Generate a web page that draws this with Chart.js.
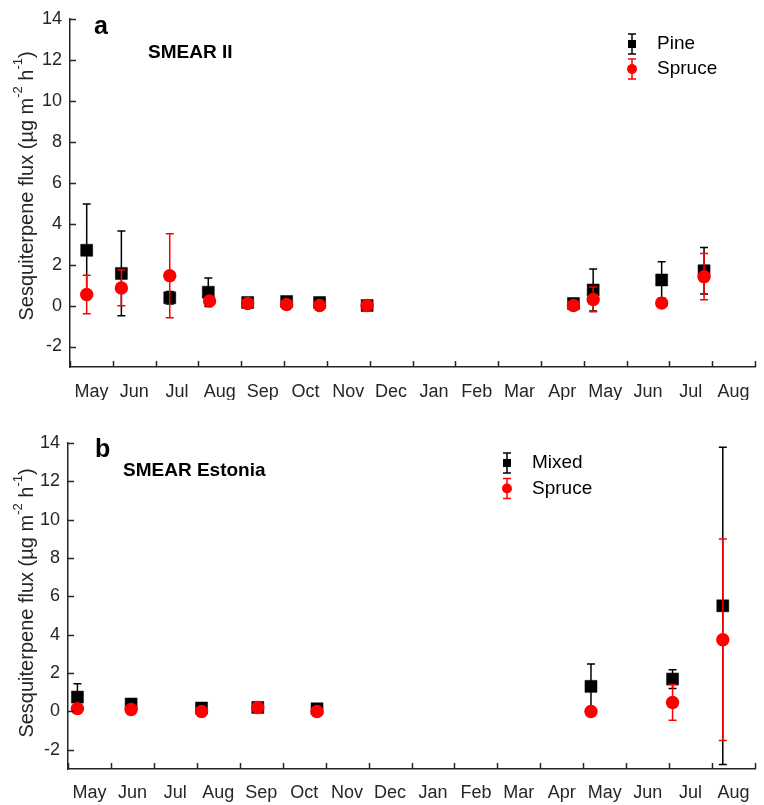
<!DOCTYPE html>
<html>
<head>
<meta charset="utf-8">
<script src="https://cdn.jsdelivr.net/npm/chart.js@4.4.0/dist/chart.umd.min.js"></script>
<style>
  body { margin: 0; background: #fff; }
  canvas { display: block; }
</style>
</head>
<body>
<canvas id="chartA" width="764" height="400"></canvas>
<canvas id="chartB" width="764" height="405"></canvas>
<script>
// month axis: x value = months since 1 May of the first year
var monthLabels = ['May', 'Jun', 'Jul', 'Aug', 'Sep', 'Oct', 'Nov', 'Dec', 'Jan', 'Feb', 'Mar', 'Apr', 'May', 'Jun', 'Jul', 'Aug'];
var yTickValues = [-2, 0, 2, 4, 6, 8, 10, 12, 14];

// panel a, SMEAR II
var pineX = [0.39, 1.20, 2.33, 3.23, 4.15, 5.06, 5.83, 6.94, 11.76, 12.22, 13.82, 14.81];
var pineY = [2.70, 1.57, 0.38, 0.65, 0.15, 0.20, 0.15, 0.00, 0.10, 0.76, 1.25, 1.70];
var pineErr = [2.26, 2.07, 0.30, 0.70, 0.10, 0.10, 0.10, 0.05, 0.10, 1.02, 0.89, 1.13];
var spruceAX = [0.39, 1.20, 2.33, 3.26, 4.15, 5.06, 5.83, 6.94, 11.76, 12.22, 13.82, 14.81];
var spruceAY = [0.54, 0.86, 1.46, 0.22, 0.10, 0.05, 0.00, 0.00, 0.00, 0.30, 0.12, 1.41];
var spruceAErr = [0.94, 0.87, 2.05, 0.15, 0.05, 0.05, 0.05, 0.05, 0.05, 0.60, 0.10, 1.13];

// panel b, SMEAR Estonia
var mixedX = [0.22, 1.47, 3.11, 4.42, 5.80, 12.18, 14.08, 15.25];
var mixedY = [0.75, 0.39, 0.18, 0.21, 0.14, 1.31, 1.69, 5.51];
var mixedErr = [0.69, 0.15, 0.10, 0.10, 0.10, 1.16, 0.49, 8.27];
var spruceBX = [0.22, 1.47, 3.11, 4.42, 5.80, 12.18, 14.08, 15.25];
var spruceBY = [0.15, 0.10, 0.00, 0.21, 0.00, 0.00, 0.47, 3.74];
var spruceBErr = [0.10, 0.10, 0.05, 0.05, 0.05, 0.05, 0.93, 5.25];

var FONT = "'Liberation Sans', Arial, sans-serif";
var AXIS = '#262626';
Chart.defaults.font.family = FONT;
Chart.defaults.color = AXIS;

function points(xs, ys) {
    return xs.map(function (x, i) { return { x: x, y: ys[i] }; });
}

// vertical error bars with caps, drawn just before each dataset's markers
var errorBars = {
    id: 'errorBars',
    beforeDatasetDraw: function (chart, args) {
        var ds = chart.data.datasets[args.index];
        if (!ds.errors) return;
        var ctx = chart.ctx, y = chart.scales.y;
        ctx.save();
        ctx.strokeStyle = ds.borderColor;
        ctx.lineWidth = 1.5;
        ctx.beginPath();
        args.meta.data.forEach(function (pt, i) {
            var v = ds.data[i].y, e = ds.errors[i];
            var top = y.getPixelForValue(v + e), bot = y.getPixelForValue(v - e);
            ctx.moveTo(pt.x, top); ctx.lineTo(pt.x, bot);
            ctx.moveTo(pt.x - 4, top); ctx.lineTo(pt.x + 4, top);
            ctx.moveTo(pt.x - 4, bot); ctx.lineTo(pt.x + 4, bot);
        });
        ctx.stroke();
        ctx.restore();
    }
};

// inward tick marks on both axes
var innerTicks = {
    id: 'innerTicks',
    afterDraw: function (chart) {
        var ctx = chart.ctx, x = chart.scales.x, y = chart.scales.y, a = chart.chartArea;
        ctx.save();
        ctx.strokeStyle = AXIS;
        ctx.lineWidth = 1.5;
        ctx.beginPath();
        for (var i = 0; i <= monthLabels.length; i++) {
            var px = Math.round(x.getPixelForValue(i)) + 0.5;
            ctx.moveTo(px, a.bottom); ctx.lineTo(px, a.bottom - 6);
        }
        yTickValues.forEach(function (v) {
            var py = Math.round(y.getPixelForValue(v)) + 0.5;
            ctx.moveTo(a.left, py); ctx.lineTo(a.left + 6, py);
        });
        ctx.stroke();
        ctx.restore();
    }
};

// panel letter, site name, y title with superscripts, legend with error-bar glyphs
var panelText = {
    id: 'panelText',
    afterDraw: function (chart, args, o) {
        var ctx = chart.ctx, a = chart.chartArea;
        ctx.save();
        ctx.fillStyle = '#000';
        ctx.textBaseline = 'alphabetic';
        ctx.textAlign = 'left';
        ctx.font = 'bold 25px ' + FONT;
        ctx.fillText(o.letter, o.letterX, o.letterY);
        ctx.font = 'bold 19px ' + FONT;
        ctx.fillText(o.site, o.siteX, o.siteY);

        // y axis title
        var parts = [
            { t: 'Sesquiterpene flux (\u00b5g m', sup: false },
            { t: '-2', sup: true },
            { t: ' h', sup: false },
            { t: '-1', sup: true },
            { t: ')', sup: false }
        ];
        var total = 0;
        parts.forEach(function (p) {
            ctx.font = (p.sup ? '13px ' : '20px ') + FONT;
            p.w = ctx.measureText(p.t).width;
            total += p.w;
        });
        ctx.translate(o.titleX, (a.top + a.bottom) / 2 + o.titleDy);
        ctx.rotate(-Math.PI / 2);
        ctx.fillStyle = AXIS;
        ctx.textBaseline = 'middle';
        var cx = -total / 2;
        parts.forEach(function (p) {
            ctx.font = (p.sup ? '13px ' : '20px ') + FONT;
            ctx.fillText(p.t, cx, p.sup ? -9 : 0);
            cx += p.w;
        });
        ctx.setTransform(1, 0, 0, 1, 0, 0);

        // legend
        o.legend.forEach(function (item, i) {
            var ly = o.legendY + i * o.legendGap, lx = o.legendX;
            ctx.strokeStyle = item.color;
            ctx.fillStyle = item.color;
            ctx.lineWidth = 1.5;
            ctx.beginPath();
            ctx.moveTo(lx, ly - 10); ctx.lineTo(lx, ly + 10);
            ctx.moveTo(lx - 4, ly - 10); ctx.lineTo(lx + 4, ly - 10);
            ctx.moveTo(lx - 4, ly + 10); ctx.lineTo(lx + 4, ly + 10);
            ctx.stroke();
            ctx.beginPath();
            if (item.shape === 'rect') ctx.rect(lx - 4, ly - 4, 8, 8);
            else ctx.arc(lx, ly, 5, 0, Math.PI * 2);
            ctx.fill();
            ctx.fillStyle = '#000';
            ctx.font = '19px ' + FONT;
            ctx.textBaseline = 'middle';
            ctx.fillText(item.label, lx + 25, ly);
        });
        ctx.restore();
    }
};

function makeChart(id, cfg) {
    var canvas = document.getElementById(id);
    return new Chart(canvas.getContext('2d'), {
        type: 'scatter',
        data: {
            datasets: [{
                label: cfg.blackLabel,
                data: points(cfg.bx, cfg.by),
                errors: cfg.berr,
                pointStyle: 'rect',
                pointRadius: 8.5,
                backgroundColor: '#000',
                borderColor: '#000',
                borderWidth: 0.5,
                order: 2
            }, {
                label: 'Spruce',
                data: points(cfg.rx, cfg.ry),
                errors: cfg.rerr,
                pointStyle: 'circle',
                pointRadius: 6.7,
                backgroundColor: '#ff0000',
                borderColor: '#ff0000',
                borderWidth: 0,
                order: 1
            }]
        },
        options: {
            responsive: false,
            animation: false,
            events: [],
            layout: { padding: { left: 0, right: 6, top: cfg.top, bottom: 0 } },
            plugins: {
                legend: { display: false },
                tooltip: { enabled: false },
                panelText: cfg.text
            },
            scales: {
                x: {
                    type: 'linear',
                    min: 0,
                    max: monthLabels.length,
                    grid: { display: false, drawTicks: false },
                    border: { display: true, color: AXIS, width: 1.5 },
                    ticks: {
                        padding: cfg.labelPad,
                        font: { size: 18 },
                        color: AXIS,
                        maxRotation: 0,
                        callback: function (v, i) { return monthLabels[i]; }
                    },
                    afterBuildTicks: function (s) {
                        s.ticks = monthLabels.map(function (m, i) { return { value: i + 0.5 }; });
                    },
                    afterFit: function (s) { s.height = cfg.xHeight; }
                },
                y: {
                    min: -3,
                    max: 14,
                    grid: { display: false, drawTicks: false },
                    border: { display: true, color: AXIS, width: 1.5 },
                    ticks: { padding: 8, font: { size: 18 }, color: AXIS },
                    afterBuildTicks: function (s) {
                        s.ticks = yTickValues.map(function (v) { return { value: v }; });
                    },
                    afterFit: function (s) { s.width = cfg.yWidth; }
                }
            }
        },
        plugins: [errorBars, innerTicks, panelText]
    });
}

makeChart('chartA', {
    blackLabel: 'Pine',
    bx: pineX, by: pineY, berr: pineErr,
    rx: spruceAX, ry: spruceAY, rerr: spruceAErr,
    top: 16, xHeight: 33, yWidth: 70, labelPad: 14,
    text: {
        letter: 'a', letterX: 94, letterY: 34,
        site: 'SMEAR II', siteX: 148, siteY: 58,
        titleX: 27, titleDy: -7,
        legend: [
            { label: 'Pine', color: '#000', shape: 'rect' },
            { label: 'Spruce', color: '#ff0000', shape: 'circle' }
        ],
        legendX: 632, legendY: 44, legendGap: 25
    }
});

makeChart('chartB', {
    blackLabel: 'Mixed',
    bx: mixedX, by: mixedY, berr: mixedErr,
    rx: spruceBX, ry: spruceBY, rerr: spruceBErr,
    top: 43, xHeight: 36, yWidth: 68, labelPad: 13,
    text: {
        letter: 'b', letterX: 95, letterY: 57,
        site: 'SMEAR Estonia', siteX: 123, siteY: 76,
        titleX: 27, titleDy: -3,
        legend: [
            { label: 'Mixed', color: '#000', shape: 'rect' },
            { label: 'Spruce', color: '#ff0000', shape: 'circle' }
        ],
        legendX: 507, legendY: 63, legendGap: 25.5
    }
});
</script>
</body>
</html>
